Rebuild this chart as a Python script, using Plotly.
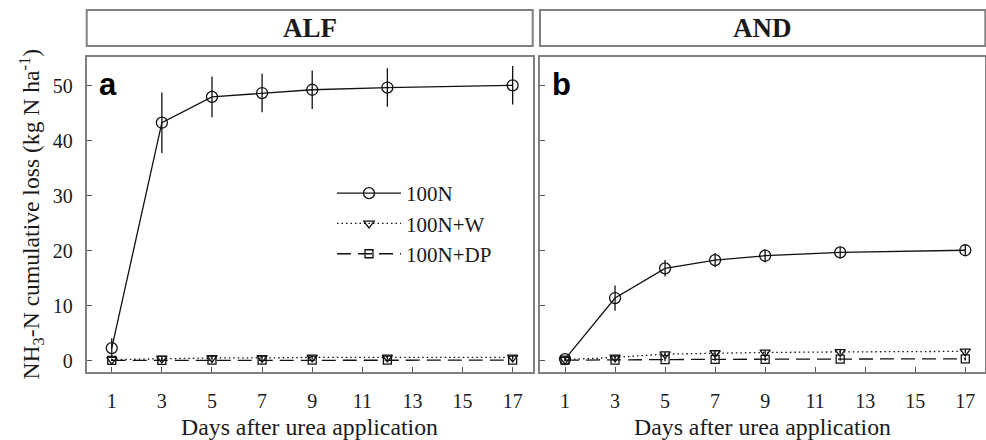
import plotly.graph_objects as go

# ---------------- data ----------------
days = [1, 3, 5, 7, 9, 12, 17]
x_ticks = [1, 3, 5, 7, 9, 11, 13, 15, 17]
y_ticks = [0, 10, 20, 30, 40, 50]
panels = ["ALF", "AND"]
panel_letters = ["a", "b"]
series_names = ["100N", "100N+W", "100N+DP"]

alf_100n = [2.3, 43.3, 48.0, 48.7, 49.3, 49.7, 50.1]
alf_100n_err = [1.8, 5.5, 3.7, 3.5, 3.5, 3.5, 3.5]
alf_w = [0.2, 0.4, 0.5, 0.5, 0.6, 0.6, 0.6]
alf_w_err = [0.2, 0.3, 0.3, 0.3, 0.3, 0.3, 0.3]
alf_dp = [0.05, 0.05, 0.1, 0.1, 0.1, 0.1, 0.1]
alf_dp_err = [0.1, 0.1, 0.1, 0.1, 0.1, 0.1, 0.1]

and_100n = [0.3, 11.4, 16.8, 18.3, 19.1, 19.7, 20.1]
and_100n_err = [0.4, 2.3, 1.5, 1.3, 1.2, 1.1, 1.0]
and_w = [0.2, 0.6, 1.2, 1.4, 1.5, 1.6, 1.7]
and_w_err = [0.2, 0.3, 0.4, 0.4, 0.4, 0.4, 0.4]
and_dp = [0.1, 0.1, 0.2, 0.25, 0.25, 0.3, 0.35]
and_dp_err = [0.2, 0.2, 0.3, 0.3, 0.3, 0.3, 0.3]

# ---------------- layout helpers ----------------
W, H = 986, 440
def px(v):
    return v / W
def py(v):
    return 1 - v / H

SERIF = "Liberation Serif, Times New Roman, serif"
SANS = "Liberation Sans, Arial, sans-serif"
TXT = "#1a1a1a"
FRAME = "#808080"
INK = "#111111"

left_dom = [px(86.7), px(532.7)]
right_dom = [px(540.0), px(985.3)]
y_dom = [py(371.7), py(57.3)]

styles = [
    dict(symbol="circle-open", size=11, dash="solid"),
    dict(symbol="triangle-down-open", size=9, dash="1.5px,3px"),
    dict(symbol="square-open", size=8, dash="14px,7px"),
]

fig = go.Figure()

panel_data = [
    [(alf_100n, alf_100n_err), (alf_w, alf_w_err), (alf_dp, alf_dp_err)],
    [(and_100n, and_100n_err), (and_w, and_w_err), (and_dp, and_dp_err)],
]

for p, pdata in enumerate(panel_data):
    xa = "x" if p == 0 else "x2"
    ya = "y" if p == 0 else "y2"
    # draw small series first so 100N is on top
    for s in [2, 1, 0]:
        vals, errs = pdata[s]
        st = styles[s]
        fig.add_trace(go.Scatter(
            x=days, y=vals, mode="lines+markers", name=series_names[s],
            legendrank=s + 1,
            showlegend=(p == 0),
            xaxis=xa, yaxis=ya,
            line=dict(color=INK, width=1.3, dash=st["dash"]),
            marker=dict(symbol=st["symbol"], size=st["size"], color=INK,
                        line=dict(color=INK, width=1.3)),
            error_y=dict(type="data", array=errs, visible=True, color=INK,
                         thickness=1.3, width=0),
        ))

axis_common = dict(
    showline=True, mirror=True, linecolor=FRAME, linewidth=2,
    ticks="inside", ticklen=5, tickwidth=1.3, tickcolor="#555555",
    showgrid=False, zeroline=False,
    tickfont=dict(family=SERIF, size=20, color=TXT),
)

fig.update_layout(
    width=W, height=H,
    margin=dict(l=0, r=0, t=0, b=0),
    paper_bgcolor="white", plot_bgcolor="white",
    showlegend=True,
    legend=dict(
        x=px(332), y=py(173), xanchor="left", yanchor="top",
        bgcolor="rgba(0,0,0,0)", borderwidth=0,
        font=dict(family=SERIF, size=21, color=TXT),
        itemwidth=64, tracegroupgap=0,
        traceorder="normal",
    ),
    xaxis=dict(domain=left_dom, range=[0, 17.8], tickvals=x_ticks,
               ticklabelstandoff=10, anchor="y", **axis_common),
    xaxis2=dict(domain=right_dom, range=[0, 17.8], tickvals=x_ticks,
                ticklabelstandoff=10, anchor="y2", **axis_common),
    yaxis=dict(domain=y_dom, range=[-2.0, 55.2], tickvals=y_ticks,
               ticklabelstandoff=8, anchor="x", **axis_common),
    yaxis2=dict(domain=y_dom, range=[-2.0, 55.2], tickvals=y_ticks,
                showticklabels=False, anchor="x2", **axis_common),
)

# strips
shapes = []
annotations = []
for i, dom in enumerate([left_dom, right_dom]):
    shapes.append(dict(type="rect", xref="paper", yref="paper",
                       x0=dom[0], x1=dom[1], y0=py(46), y1=py(10),
                       line=dict(color=FRAME, width=2), fillcolor="white"))
    annotations.append(dict(text="<b>%s</b>" % panels[i], xref="paper", yref="paper",
                            x=(dom[0] + dom[1]) / 2, y=py(28), xanchor="center",
                            yanchor="middle", showarrow=False,
                            font=dict(family=SERIF, size=27, color=TXT)))
    annotations.append(dict(text="Days after urea application", xref="paper", yref="paper",
                            x=(dom[0] + dom[1]) / 2, y=py(427), xanchor="center",
                            yanchor="middle", showarrow=False,
                            font=dict(family=SERIF, size=23.8, color=TXT)))
    annotations.append(dict(text="<b>%s</b>" % panel_letters[i], xref="paper", yref="paper",
                            x=px([97.0, 550.0][i]), y=py(85), xanchor="left",
                            yanchor="middle", showarrow=False,
                            font=dict(family=SANS, size=31, color="#000000")))

annotations.append(dict(text="NH<sub>3</sub>-N cumulative loss (kg N ha<sup>-1</sup>)",
                        xref="paper", yref="paper", x=px(31), y=py(214.5),
                        xanchor="center", yanchor="middle", textangle=-90,
                        showarrow=False, font=dict(family=SERIF, size=23.6, color=TXT)))

fig.update_layout(shapes=shapes, annotations=annotations)

fig.write_html("out.html", config={"displayModeBar": False},
               post_script="document.body.style.margin='0px';")
